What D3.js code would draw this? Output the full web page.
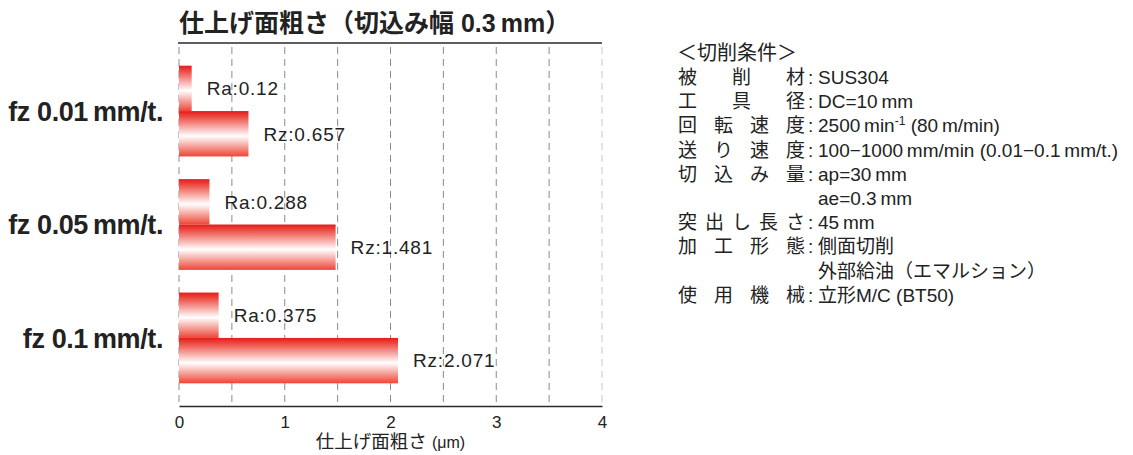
<!DOCTYPE html>
<html><head><meta charset="utf-8">
<script src="https://cdn.jsdelivr.net/npm/d3@7"></script>
<style>
html,body{margin:0;padding:0;background:#fff;}
svg{display:block;}
</style></head>
<body>
<svg id="chart" width="1133" height="455"></svg>
<script>
// ---- data ----
const categories = ["fz 0.01\u2009mm/t.", "fz 0.05\u2009mm/t.", "fz 0.1\u2009mm/t."];
const raValues = [0.12, 0.288, 0.375];
const rzValues = [0.657, 1.481, 2.071];
const seriesNames = ["Ra", "Rz"];
const xTickLabels = ["0", "1", "2", "3", "4"];
const titleText = "仕上げ面粗さ（切込み幅 0.3\u2009mm）";
const xAxisTitle = "仕上げ面粗さ";
const xAxisUnit = "(μm)";
const condHeader = "＜切削条件＞";
const condLabels = ["被削材", "工具径", "回転速度", "送り速度", "切込み量", "", "突出し長さ", "加工形態", "", "使用機械"];
const condValues = ["SUS304", "DC=10\u2009mm", "2500\u2009min^{-1} (80\u2009m/min)", "100−1000\u2009mm/min (0.01−0.1\u2009mm/t.)",
  "ap=30\u2009mm", "ae=0.3\u2009mm", "45\u2009mm", "側面切削", "外部給油（エマルション）", "立形M/C (BT50)"];

(function () {
// ---- setup ----
const svg = d3.select("#chart");
const FONT = "'Liberation Sans', Arial, 'Noto Sans CJK JP', sans-serif";
const pLeft = 179, pRight = 602, pTop = 43, pBottom = 406;

const x = d3.scaleLinear().domain([0, 4]).range([pLeft, pRight]);
const y = d3.scaleBand().domain(categories).range([pTop, pBottom]).paddingInner(0.2).paddingOuter(0.2);
const sub = d3.scaleBand().domain(seriesNames).range([0, y.bandwidth()]);

const rows = categories.map((c, i) => ({cat: c, vals: [{k: "Ra", v: raValues[i]}, {k: "Rz", v: rzValues[i]}]}));

// gradient
const defs = svg.append("defs");
const grad = defs.append("linearGradient").attr("id", "barGrad").attr("x1", 0).attr("x2", 0).attr("y1", 0).attr("y2", 1);
grad.append("stop").attr("offset", "0%").attr("stop-color", "#e81a1c");
grad.append("stop").attr("offset", "12%").attr("stop-color", "#ec4a40");
grad.append("stop").attr("offset", "55%").attr("stop-color", "#ffffff");
grad.append("stop").attr("offset", "100%").attr("stop-color", "#ed4536");

// gridlines
const gridTicks = x.ticks(8);
svg.append("g").selectAll("line").data(gridTicks).join("line")
  .attr("x1", d => x(d)).attr("x2", d => x(d))
  .attr("y1", pTop + 4).attr("y2", pBottom)
  .attr("stroke", d => d === 4 ? "#c8c8c8" : "#8a8a8a")
  .attr("stroke-width", 1)
  .attr("stroke-dasharray", "7,5");

// top line
svg.append("line").attr("x1", pLeft - 1).attr("x2", pRight).attr("y1", pTop).attr("y2", pTop)
  .attr("stroke", "#2a2a2a").attr("stroke-width", 1.5);

// bars
const g = svg.append("g").selectAll("g").data(rows).join("g")
  .attr("transform", d => `translate(0,${y(d.cat)})`);
g.selectAll("rect").data(d => d.vals).join("rect")
  .attr("x", x(0)).attr("y", d => sub(d.k))
  .attr("width", d => x(d.v) - x(0)).attr("height", sub.bandwidth())
  .attr("fill", "url(#barGrad)");
g.selectAll("text").data(d => d.vals).join("text")
  .attr("x", d => x(d.v) + 15).attr("y", d => sub(d.k) + sub.bandwidth() / 2)
  .attr("dy", "0.36em")
  .attr("font-family", FONT).attr("font-size", 19).attr("letter-spacing", "0.8px")
  .attr("fill", "#222")
  .text(d => `${d.k}:${d.v}`);

// category labels
svg.append("g").selectAll("text").data(categories).join("text")
  .attr("x", 163).attr("y", d => y(d) + y.bandwidth() / 2)
  .attr("dy", "0.36em").attr("text-anchor", "end")
  .attr("font-family", FONT).attr("font-size", 27).attr("font-weight", "bold")
  .attr("fill", "#222").attr("letter-spacing", "-0.4px")
  .text(d => d);

// x axis
const axis = d3.axisBottom(x).tickValues([0, 1, 2, 3, 4]).tickSize(0).tickPadding(10)
  .tickFormat((d, i) => xTickLabels[i]);
const ax = svg.append("g").attr("transform", `translate(0,${pBottom})`).call(axis);
ax.select(".domain").attr("stroke", "#2a2a2a").attr("stroke-width", 1.5);
ax.selectAll("text").attr("font-family", FONT).attr("font-size", 17).attr("fill", "#222");

// axis title
const at = svg.append("text").attr("x", (pLeft + pRight) / 2).attr("y", 448)
  .attr("text-anchor", "middle").attr("font-family", FONT).attr("fill", "#222");
at.append("tspan").attr("font-size", 18.5).text(xAxisTitle + " ");
at.append("tspan").attr("font-size", 16).text(xAxisUnit);

// title
svg.append("text").attr("x", 179).attr("y", 32)
  .attr("font-family", FONT).attr("font-size", 25).attr("font-weight", "bold").attr("fill", "#222")
  .text(titleText);

// conditions block
const cx0 = 678, cxEnd = 805, cColon = 808, cVal = 818, cy0 = 53, cStep = 24.2, cFs = 19;
const cond = svg.append("g").attr("font-family", FONT).attr("font-size", cFs).attr("fill", "#222");
cond.append("text").attr("x", cx0 - 1).attr("y", cy0).attr("dy", "0.36em").attr("font-size", 20).text(condHeader);
condLabels.forEach((lab, i) => {
  const yy = cy0 + cStep * (i + 1);
  const chars = Array.from(lab);
  if (chars.length) {
    const n = chars.length;
    const span = cxEnd - cFs - cx0;
    chars.forEach((ch, j) => {
      cond.append("text").attr("x", cx0 + (n > 1 ? j * span / (n - 1) : 0)).attr("y", yy).attr("dy", "0.36em").text(ch);
    });
    cond.append("text").attr("x", cColon).attr("y", yy).attr("dy", "0.36em").text(":");
  }
  const t = cond.append("text").attr("x", cVal).attr("y", yy).attr("dy", "0.36em");
  const parts = condValues[i].split(/(\^\{[^}]*\})/);
  let raised = false;
  parts.forEach(p => {
    if (p.startsWith("^{")) {
      t.append("tspan").attr("font-size", 12).attr("dy", -7).text(p.slice(2, -1));
      raised = true;
    } else if (p) {
      const ts = t.append("tspan").text(p);
      if (raised) { ts.attr("dy", 7); raised = false; }
    }
  });
});
})();
</script>
</body></html>
